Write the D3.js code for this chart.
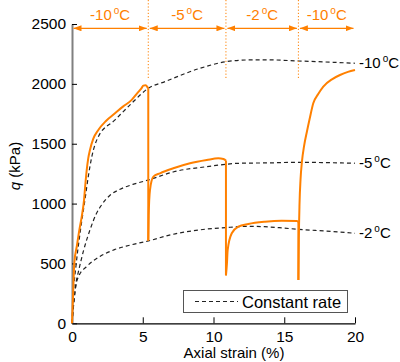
<!DOCTYPE html>
<html>
<head>
<meta charset="utf-8">
<script src="https://cdn.jsdelivr.net/npm/d3@7"></script>
<style>
  body { margin: 0; background: #fff; }
  svg { font-family: "Liberation Sans", Arial, sans-serif; }
</style>
</head>
<body>
<svg id="chart" width="400" height="362"></svg>
<script>
// stage boundaries (axial strain %) and their temperatures
var stageBounds = [0, 5.39, 10.88, 16.0, 20];
var stageTemps = ["-10", "-5", "-2", "-10"];

// stepped temperature test, one array per stage: [strain, q]
var stage1 = [[0,0],[0.08,250],[0.16,500],[0.35,650],[0.52,780],[0.7,900],[0.85,1030],[0.95,1170],[1.04,1280],[1.15,1380],[1.27,1448],[1.5,1540],[1.86,1615],[2.4,1690],[3.04,1754],[3.6,1810],[4.22,1866],[4.6,1920],[4.92,1965],[5.04,1985],[5.2,1988],[5.32,1975],[5.39,1960]];
var stage2 = [[5.39,690],[5.42,900],[5.51,1113],[5.75,1225],[6.22,1253],[7.16,1295],[8.34,1337],[9.52,1364],[10.34,1378],[10.7,1373],[10.88,1360]];
var stage3 = [[10.88,400],[10.95,500],[11.0,612],[11.29,752],[11.75,807],[12.46,830],[13.64,849],[14.82,857],[15.88,855],[16.0,850]];
var stage4 = [[16.0,362],[16.03,700],[16.08,1000],[16.15,1200],[16.25,1350],[16.4,1480],[16.6,1600],[16.8,1710],[17.05,1838],[17.4,1915],[17.76,1977],[18.4,2040],[18.94,2074],[19.5,2100],[20,2116]];

// constant rate tests
var constTemps = ["-10", "-5", "-2"];
var constM10 = [[0,0],[0.1,250],[0.3,500],[0.6,780],[0.95,1060],[1.15,1225],[1.4,1392],[1.86,1559],[3.04,1699],[4.22,1838],[5.39,1963],[6.57,2019],[9.05,2130],[10.93,2186],[12.6,2200],[14,2200],[16,2191],[18.5,2180],[20,2172]];
var constM5 = [[0,0],[0.15,200],[0.3,350],[0.45,430],[0.8,600],[1.3,790],[1.7,910],[2.1,990],[2.69,1070],[3.4,1120],[4.3,1160],[5.4,1197],[7.2,1266],[9.5,1308],[11.9,1337],[14,1340],[16,1345],[18,1342],[20,1337]];
var constM2 = [[0,0],[0.15,200],[0.3,330],[0.5,400],[1.0,470],[2,560],[3,615],[4,650],[5.4,688],[7,740],[9,780],[10.9,800],[12.5,810],[13.6,807],[15,795],[16,785],[18,770],[20,752]];

var xTicks = [0, 5, 10, 15, 20];
var yTicks = [0, 500, 1000, 1500, 2000, 2500];

var orange = '#ff8000';
var svg = d3.select('#chart');

var x = d3.scaleLinear().domain([0, 20]).range([72, 355]);
var y = d3.scaleLinear().domain([0, 2500]).range([323.3, 24]);

// axes
var xAxis = d3.axisBottom(x).tickValues(xTicks).tickFormat(d3.format('d'))
  .tickSizeInner(-6).tickSizeOuter(0).tickPadding(8);
var gx = svg.append('g')
  .attr('transform', 'translate(0,' + y(0) + ')')
  .call(xAxis)
  .attr('font-family', null).attr('font-size', 15.5);
gx.selectAll('text').attr('fill', '#000');
gx.select('.domain').attr('stroke', '#000').attr('stroke-width', 1.3);

var yAxis = d3.axisLeft(y).tickValues(yTicks).tickFormat(d3.format('d'))
  .tickSizeInner(-5).tickSizeOuter(0).tickPadding(6);
var gy = svg.append('g')
  .attr('transform', 'translate(' + x(0) + ',0)')
  .call(yAxis)
  .attr('font-family', null).attr('font-size', 15.5);
gy.selectAll('text').attr('fill', '#000');
gy.select('.domain').attr('stroke', '#808080').attr('stroke-width', 2);

// axis titles
svg.append('text')
  .attr('x', 234).attr('y', 358)
  .attr('text-anchor', 'middle').attr('font-size', 15)
  .text('Axial strain (%)');

var yt = svg.append('text')
  .attr('transform', 'translate(20,166) rotate(-90)')
  .attr('text-anchor', 'middle').attr('font-size', 15);
yt.append('tspan').attr('font-style', 'italic').text('q');
yt.append('tspan').text(' (kPa)');

var smooth = d3.line().x(d => x(d[0])).y(d => y(d[1])).curve(d3.curveMonotoneX);
var straight = d3.line().x(d => x(d[0])).y(d => y(d[1]));

// constant rate curves
var constSeries = [constM10, constM5, constM2];
svg.selectAll('path.const')
  .data(constSeries)
  .enter().append('path')
  .attr('class', 'const')
  .attr('d', smooth)
  .attr('fill', 'none')
  .attr('stroke', '#222')
  .attr('stroke-width', 1.2)
  .attr('stroke-dasharray', '4,3');

// stepped temperature curve: smooth stages joined by vertical drops
var stagesData = [stage1, stage2, stage3, stage4];
svg.selectAll('path.stage')
  .data(stagesData)
  .enter().append('path')
  .attr('class', 'stage')
  .attr('d', smooth)
  .attr('fill', 'none')
  .attr('stroke', orange)
  .attr('stroke-width', 2)
  .attr('stroke-linejoin', 'round');

var drops = stagesData.slice(0, -1).map((s, i) => [s[s.length - 1], stagesData[i + 1][0]]);
svg.selectAll('path.drop')
  .data(drops)
  .enter().append('path')
  .attr('class', 'drop')
  .attr('d', straight)
  .attr('fill', 'none')
  .attr('stroke', orange)
  .attr('stroke-width', 2);

// right-hand temperature labels
constSeries.forEach(function(s, i) {
  var last = s[s.length - 1];
  var t = svg.append('text')
    .attr('x', x(last[0]) + 4)
    .attr('y', y(last[1]) + 5)
    .attr('font-size', 15)
    .attr('fill', '#000');
  t.append('tspan').text(constTemps[i]);
  t.append('tspan').attr('dx', 2).attr('dy', -6).attr('font-size', 10).text('o');
  t.append('tspan').attr('dy', 6).text('C');
});

// stage markers
var defs = svg.append('defs');
defs.append('marker')
  .attr('id', 'arrowEnd').attr('viewBox', '0 0 8 6')
  .attr('refX', 8).attr('refY', 3)
  .attr('markerWidth', 8).attr('markerHeight', 6)
  .attr('markerUnits', 'userSpaceOnUse')
  .attr('orient', 'auto')
  .append('path').attr('d', 'M0,0L8,3L0,6Z').attr('fill', orange);
defs.append('marker')
  .attr('id', 'arrowStart').attr('viewBox', '0 0 8 6')
  .attr('refX', 0).attr('refY', 3)
  .attr('markerWidth', 8).attr('markerHeight', 6)
  .attr('markerUnits', 'userSpaceOnUse')
  .attr('orient', 'auto')
  .append('path').attr('d', 'M8,0L0,3L8,6Z').attr('fill', orange);

var stages = stageTemps.map((t, i) => ({ t: t, a: stageBounds[i], b: stageBounds[i + 1] }));
var arrowY = 28.3;

svg.selectAll('line.arrow')
  .data(stages)
  .enter().append('line')
  .attr('class', 'arrow')
  .attr('x1', d => x(d.a) + 1.5)
  .attr('x2', d => x(d.b) - 1.5)
  .attr('y1', arrowY).attr('y2', arrowY)
  .attr('stroke', orange)
  .attr('stroke-width', 1.3)
  .attr('marker-start', 'url(#arrowStart)')
  .attr('marker-end', 'url(#arrowEnd)');

svg.selectAll('line.sep')
  .data(stageBounds.slice(1, -1))
  .enter().append('line')
  .attr('class', 'sep')
  .attr('x1', d => x(d)).attr('x2', d => x(d))
  .attr('y1', 0).attr('y2', 78)
  .attr('stroke', orange)
  .attr('stroke-width', 1)
  .attr('stroke-dasharray', '1.2,2');

stages.forEach(function(s) {
  var t = svg.append('text')
    .attr('x', x((s.a + s.b) / 2))
    .attr('y', 20)
    .attr('text-anchor', 'middle')
    .attr('font-size', 15)
    .attr('fill', orange);
  t.append('tspan').text(s.t);
  t.append('tspan').attr('dx', 2).attr('dy', -6).attr('font-size', 10).text('o');
  t.append('tspan').attr('dy', 6).text('C');
});

// legend
svg.append('rect')
  .attr('x', 183.5).attr('y', 290.5)
  .attr('width', 164).attr('height', 22)
  .attr('fill', '#fff')
  .attr('stroke', '#555')
  .attr('stroke-width', 1);
svg.append('line')
  .attr('x1', 195).attr('x2', 238)
  .attr('y1', 301.5).attr('y2', 301.5)
  .attr('stroke', '#222')
  .attr('stroke-width', 1.2)
  .attr('stroke-dasharray', '4,3');
svg.append('text')
  .attr('x', 242).attr('y', 307.5)
  .attr('font-size', 16.5)
  .text('Constant rate');
</script>
</body>
</html>
